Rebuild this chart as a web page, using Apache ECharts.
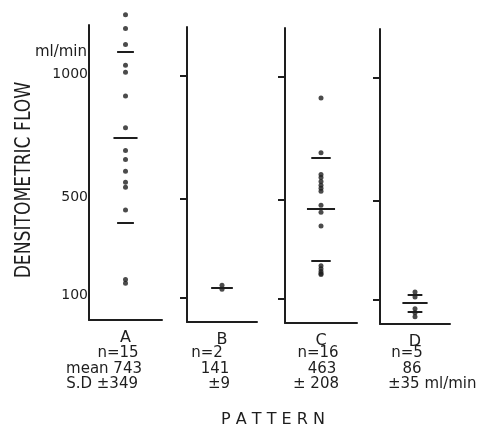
<!DOCTYPE html>
<html>
<head>
<meta charset="utf-8">
<script src="https://cdn.jsdelivr.net/npm/echarts@6/dist/echarts.min.js"></script>
<style>
html,body{margin:0;padding:0;background:#fff;}
#main{width:492px;height:430px;}
</style>
</head>
<body>
<div id="main"></div>
<script>
var patterns = ['A', 'B', 'C', 'D'];
var nCounts = [15, 2, 16, 5];
var means = [743, 141, 463, 86];
var sds = [349, 9, 208, 35];
var tickValues = [100, 500, 1000];
var flowA = [1242, 1186, 1121, 1036, 1008, 911, 782, 689, 653, 605, 560, 540, 447, 165, 149];
var flowB = [150, 133];
var flowC = [915, 693, 604, 592, 576, 560, 548, 536, 479, 451, 395, 233, 221, 209, 201, 197];
var flowD = [130, 110, 62, 46, 30];
var flows = [flowA, flowB, flowC, flowD];

var ink = '#1e1e1e';
var font = 'DejaVu Sans';
var grids = [
    {left: 89, top: 25, width: 73, height: 295},
    {left: 187, top: 27, width: 70, height: 295},
    {left: 285, top: 28, width: 72, height: 295},
    {left: 380, top: 29, width: 70, height: 295}
];
// half widths of mean and S.D bars, in x units
var meanHalf = [0.33, 0.31, 0.39, 0.36];
var sdHalf = [0.23, 0, 0.27, 0.21];

var xAxes = [], yAxes = [], series = [];
patterns.forEach(function(p, i){
    xAxes.push({
        type: 'value', gridIndex: i, min: -1, max: 1, interval: 1,
        splitLine: {show: false},
        axisTick: {show: false},
        axisLine: {onZero: false, lineStyle: {color: ink, width: 2}},
        axisLabel: {
            color: ink, fontFamily: font, fontSize: 16, margin: 10,
            formatter: function(v){ return v === 0 ? p : ''; }
        }
    });
    yAxes.push({
        type: 'value', gridIndex: i, min: 0, max: 1200,
        name: i === 0 ? 'ml/min' : '',
        nameLocation: 'end', nameGap: -27,
        nameTextStyle: {color: ink, fontFamily: font, fontSize: 15, align: 'right', verticalAlign: 'middle', padding: [0, 2, 0, 0]},
        splitLine: {show: false},
        axisLine: {show: true, onZero: false, lineStyle: {color: ink, width: 2}},
        axisTick: {show: i > 0, length: 7, customValues: tickValues, lineStyle: {color: ink, width: 2}},
        axisLabel: {
            show: i === 0, customValues: tickValues, margin: 1,
            color: ink, fontFamily: font, fontSize: 14, padding: [0, 0, 8, 0],
            formatter: function(v){ return String(v); }
        }
    });
    var lines = [[{coord: [-meanHalf[i], means[i]]}, {coord: [meanHalf[i], means[i]]}]];
    if (sdHalf[i] > 0) {
        lines.push([{coord: [-sdHalf[i], means[i] + sds[i]]}, {coord: [sdHalf[i], means[i] + sds[i]]}]);
        lines.push([{coord: [-sdHalf[i], means[i] - sds[i]]}, {coord: [sdHalf[i], means[i] - sds[i]]}]);
    }
    series.push({
        type: 'scatter', xAxisIndex: i, yAxisIndex: i,
        data: flows[i].map(function(v){ return [0, v]; }),
        symbolSize: 5, clip: false,
        itemStyle: {color: ink},
        markLine: {
            silent: true, symbol: ['none', 'none'],
            label: {show: false},
            lineStyle: {type: 'solid', color: ink, width: 2},
            data: lines
        }
    });
});

function txt(x, y, s, align, size){
    return {type: 'text', x: x, y: y, style: {
        text: s, fill: ink, font: (size || 15) + 'px "' + font + '"',
        textAlign: align || 'center', textVerticalAlign: 'middle'
    }};
}

var graphics = [
    {type: 'text', x: 24, y: 180, rotation: Math.PI / 2, scaleX: 0.78, style: {
        text: 'DENSITOMETRIC FLOW', fill: ink, font: '22px "' + font + '"',
        textAlign: 'center', textVerticalAlign: 'middle'
    }},
    txt(118, 353, 'n=' + nCounts[0]),
    txt(142, 369, 'mean ' + means[0], 'right'),
    txt(138, 384, 'S.D \u00b1' + sds[0], 'right'),
    txt(207, 353, 'n=' + nCounts[1]),
    txt(215, 369, String(means[1])),
    txt(219, 384, '\u00b1' + sds[1]),
    txt(318, 353, 'n=' + nCounts[2]),
    txt(322, 369, String(means[2])),
    txt(316, 384, '\u00b1 ' + sds[2]),
    txt(407, 353, 'n=' + nCounts[3]),
    txt(412, 369, String(means[3])),
    txt(388, 384, '\u00b1' + sds[3] + ' ml/min', 'left'),
    txt(273, 420, 'P A T T E R N', 'center', 16)
];

var myChart = echarts.init(document.getElementById('main'));
myChart.setOption({
    animation: false,
    backgroundColor: '#fff',
    grid: grids,
    xAxis: xAxes,
    yAxis: yAxes,
    series: series,
    graphic: graphics
});
</script>
</body>
</html>
